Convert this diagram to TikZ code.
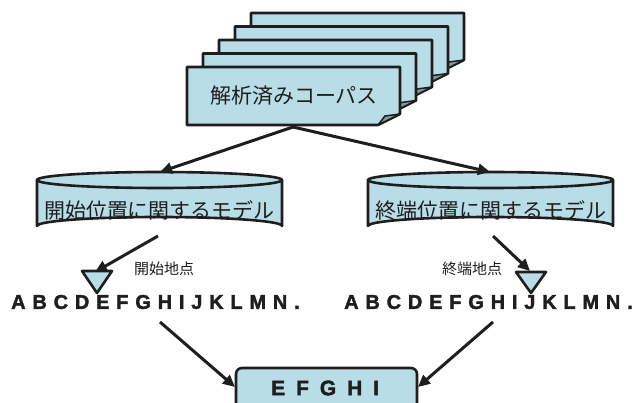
\documentclass[tikz,border=0pt]{standalone}
\usepackage{fontspec}
\setmainfont{Liberation Sans}
\newfontfamily\jp{Noto Sans CJK JP}
\newfontfamily\bl{Liberation Sans Bold}[LetterSpace=34,FakeBold=1.8]
\newfontfamily\blw{Liberation Sans Bold}[LetterSpace=52,FakeBold=1.8]
\usetikzlibrary{arrows.meta}
\definecolor{lb}{RGB}{185,221,230}
\definecolor{ink}{RGB}{30,30,30}
\tikzset{
  outl/.style={draw=ink, line width=2.6pt, fill=lb, line join=round},
  arr/.style={draw=ink, line width=3pt, -{Triangle[length=12pt,width=11pt]}},
  jtext/.style={font=\jp\fontsize{21}{24}\selectfont, text=ink, inner sep=0},
  jlab/.style={font=\jp\fontsize{15}{18}\selectfont, text=ink, inner sep=0},
  letters/.style={font=\bl\fontsize{20}{22}\selectfont, text=ink, inner sep=0},
}
\begin{document}
\begin{tikzpicture}[x=1pt,y=-1pt]
\useasboundingbox (0,0) rectangle (640,403);
\clip (0,0) rectangle (640,403);
% stacked sheets
\foreach \i in {4,3,2,1,0}{
  \begin{scope}[shift={(16*\i,-13.5*\i)}]
    \path[outl] (187,67) -- (400,67) -- (400,114) -- (378,125) -- (187,125) -- cycle;
    \path[draw=ink, line width=1.5pt, fill=lb!70!black, line join=round] (378,125) -- (385,116) -- (400,114) -- cycle;
  \end{scope}
}
\node[jtext] (corpus) at (294,96) {解析済みコーパス};
\coordinate (docbot) at (293,127);
% cylinders
\foreach \cx in {159.5, 490.5}{
  \path[outl] (\cx-122.5,180) -- (\cx-122.5,226) arc[start angle=180,end angle=360,x radius=122.5,y radius=9] -- (\cx+122.5,180) -- cycle;
  \path[outl] (\cx,180) ellipse[x radius=122.5, y radius=8];
}
\node[jtext] (cylL) at (159.5,210) {開始位置に関するモデル};
\node[jtext] (cylR) at (490.5,210) {終端位置に関するモデル};
\coordinate (cylLtop) at (160,172);
\coordinate (cylRtop) at (490,172);
\coordinate (cylLbot) at (158,236);
\coordinate (cylRbot) at (493,236);
% triangles
\path[outl] (82,271) -- (112,271) -- (97,293) -- cycle;
\path[outl] (516,272) -- (546,272) -- (531,293) -- cycle;
\coordinate (triL) at (95,272);
\coordinate (triR) at (530,271);
\node[jlab] (labL) at (164,269) {開始地点};
\node[jlab] (labR) at (472,269) {終端地点};
% letter rows
\node[letters, anchor=west] (rowL) at (11,302) {ABCDEFGHIJKLMN.};
\node[letters, anchor=west] (rowR) at (344,302) {ABCDEFGHIJKLMN.};
\coordinate (rowLbot) at (160,322);
\coordinate (rowRbot) at (493,322);
% result box
\path[outl, rounded corners=6pt] (236,368) rectangle (417,420);
\node[letters, font=\blw\fontsize{21}{23}\selectfont, anchor=west] (res) at (271,388) {EFGHI};
\coordinate (resL) at (235,387);
\coordinate (resR) at (418,387);
% arrows
\draw[arr] (docbot) -- (cylLtop);
\draw[arr] (docbot) -- (cylRtop);
\draw[arr] (cylLbot) -- (triL);
\draw[arr] (cylRbot) -- (triR);
\draw[arr] (rowLbot) -- (resL);
\draw[arr] (rowRbot) -- (resR);
\end{tikzpicture}
\end{document}
